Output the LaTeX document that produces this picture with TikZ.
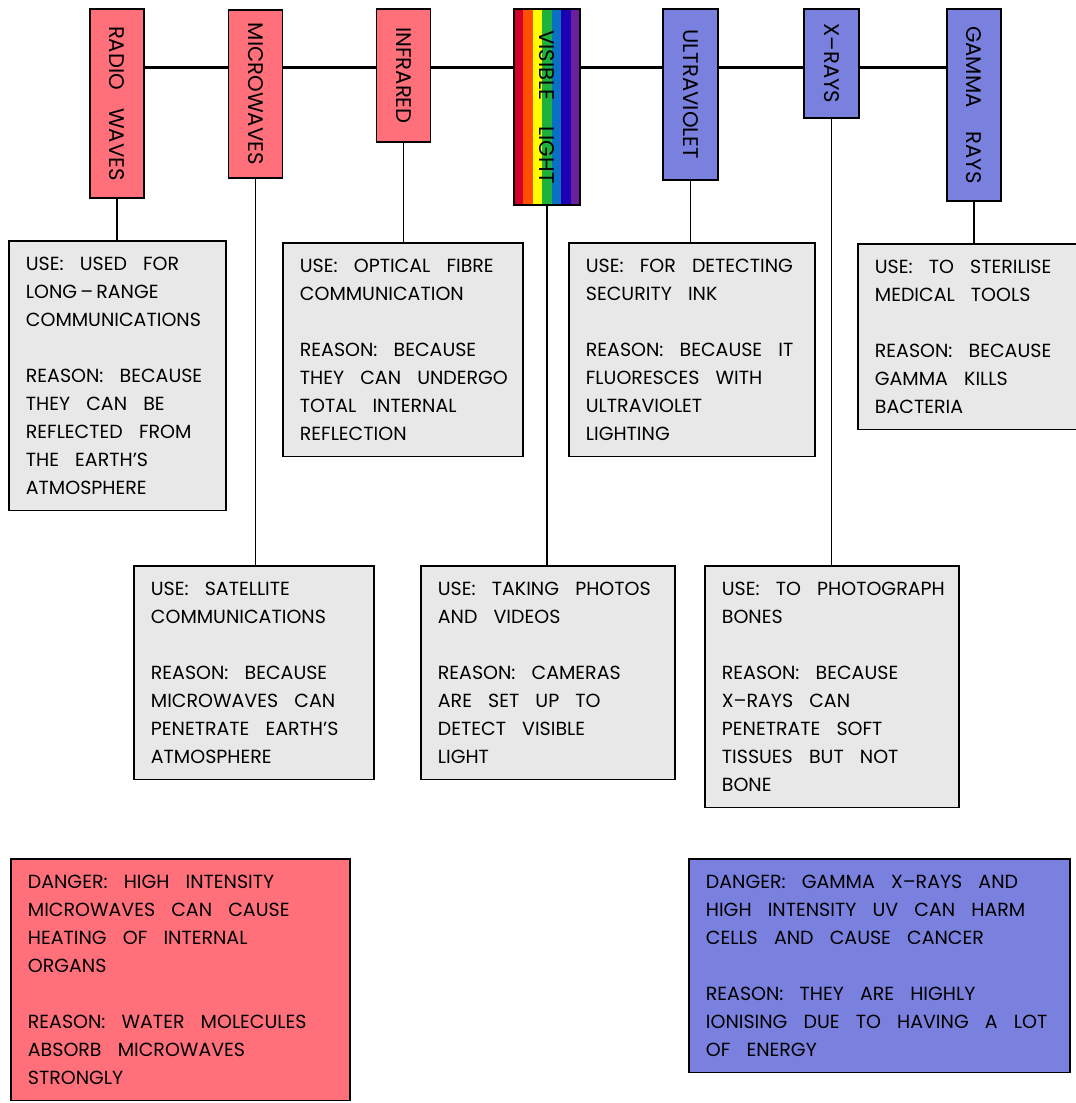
\documentclass[tikz,border=0pt]{standalone}
\usepackage{fontspec}
\setmainfont{Poppins}
\definecolor{hotred}{HTML}{FF707B}
\definecolor{ionblue}{HTML}{7A80DE}
\definecolor{boxgray}{HTML}{E8E8E8}
\definecolor{vred}{HTML}{D4002A}
\definecolor{vorange}{HTML}{FF4F00}
\definecolor{vyellow}{HTML}{FFFF00}
\definecolor{vgreen}{HTML}{1EB23C}
\definecolor{vblue}{HTML}{0A70C4}
\definecolor{vindigo}{HTML}{1E00B4}
\definecolor{vviolet}{HTML}{6A1F9C}
\newcommand\emfont{\fontsize{9.5}{14}\selectfont}
\newcommand\bandfont{\fontsize{10.6}{12}\selectfont}

\tikzset{
  bandbox/.style={draw, line width=0.9pt, rotate=-90, anchor=west, inner sep=0pt, font=\bandfont},
  infobox/.style={draw, line width=0.9pt, fill=boxgray, anchor=north west, align=left,
    inner xsep=0pt, inner ysep=8pt, font=\emfont,
    execute at begin node={\spaceskip=0.85em plus 0.1em minus 0.1em\leftskip=8.5pt
      \rightskip=-6pt plus 1fil\hyphenpenalty=10000\exhyphenpenalty=10000\relax}},
  wire/.style={line width=0.8pt},
}

\begin{document}
\begin{tikzpicture}[x=0.5pt, y=-0.5pt]
  \useasboundingbox (0,0) rectangle (1076,1103);

  % spectrum spine
  \coordinate (spineL) at (117,67);
  \coordinate (spineR) at (974,67);
  \draw[line width=1.5pt] (spineL) -- (spineR);

  % rainbow stripes under the visible light box
  \foreach \c [count=\i from 0] in {vred,vorange,vyellow,vgreen,vblue,vindigo,vviolet}
    \fill[\c] (514+\i*9.43,8) rectangle (514+\i*9.43+9.43,204);

  % bands
  \node[bandbox, fill=hotred, minimum width=94.5pt, minimum height=27pt] (radio) at (117,8) {RADIO\hspace{9pt}WAVES};
  \node[bandbox, fill=hotred, minimum width=84pt, minimum height=27pt] (micro) at (255.5,9) {MICROWAVES};
  \node[bandbox, fill=hotred, minimum width=66.5pt, minimum height=27pt] (infra) at (403.5,8) {INFRARED};
  \node[bandbox, minimum width=98pt, minimum height=33pt] (visible) at (547,8) {VISIBLE\hspace{13pt}LIGHT};
  \node[bandbox, fill=ionblue, minimum width=85.5pt, minimum height=27.5pt] (ultra) at (690.5,8) {ULTRAVIOLET};
  \node[bandbox, fill=ionblue, minimum width=54.5pt, minimum height=27.5pt] (xray) at (831.5,8) {X--RAYS};
  \node[bandbox, fill=ionblue, minimum width=96pt, minimum height=27pt] (gamma) at (974,8) {GAMMA\hspace{12pt}RAYS};

  % uses
  \node[infobox, text width=108.5pt] (radiouse) at (8,240)
    {USE: USED FOR\\ LONG\,--\,RANGE\\ COMMUNICATIONS\\[14pt]
     REASON: BECAUSE\\ THEY CAN BE\\ REFLECTED FROM\\ THE EARTH’S\\ ATMOSPHERE};
  \node[infobox, text width=120pt] (infrause) at (282,242)
    {USE: OPTICAL FIBRE\\ COMMUNICATION\\[14pt]
     REASON: BECAUSE\\ THEY CAN UNDERGO\\ TOTAL INTERNAL\\ REFLECTION};
  \node[infobox, text width=123pt] (ultrause) at (568,242)
    {USE: FOR DETECTING\\ SECURITY INK\\[14pt]
     REASON: BECAUSE IT\\ FLUORESCES WITH\\ ULTRAVIOLET\\ LIGHTING};
  \node[infobox, text width=115pt] (gammause) at (857,243)
    {USE: TO STERILISE\\ MEDICAL TOOLS\\[14pt]
     REASON: BECAUSE\\ GAMMA KILLS\\ BACTERIA};
  \node[infobox, text width=120pt] (microuse) at (133,565)
    {USE: SATELLITE\\ COMMUNICATIONS\\[14pt]
     REASON: BECAUSE\\ MICROWAVES CAN\\ PENETRATE EARTH’S\\ ATMOSPHERE};
  \node[infobox, text width=127pt] (visibleuse) at (420,565)
    {USE: TAKING PHOTOS\\ AND VIDEOS\\[14pt]
     REASON: CAMERAS\\ ARE SET UP TO\\ DETECT VISIBLE\\ LIGHT};
  \node[infobox, text width=127pt] (xrayuse) at (704,565)
    {USE: TO PHOTOGRAPH\\ BONES\\[14pt]
     REASON: BECAUSE\\ X--RAYS CAN\\ PENETRATE SOFT\\ TISSUES BUT NOT\\ BONE};

  % dangers
  \node[infobox, fill=hotred, text width=169.5pt] (lowdanger) at (10,858)
    {DANGER: HIGH INTENSITY\\ MICROWAVES CAN CAUSE\\ HEATING OF INTERNAL\\ ORGANS\\[14pt]
     REASON: WATER MOLECULES\\ ABSORB MICROWAVES\\ STRONGLY};
  \node[infobox, fill=ionblue, text width=190.5pt] (highdanger) at (688,858)
    {DANGER: GAMMA X--RAYS AND\\ HIGH INTENSITY UV CAN HARM\\ CELLS AND CAUSE CANCER\\[14pt]
     REASON: THEY ARE HIGHLY\\ IONISING DUE TO HAVING A LOT\\ OF ENERGY};

  % connectors
  \draw[wire] (radio.east) -- (radio.east |- radiouse.north);
  \draw[wire] (micro.east) -- (micro.east |- microuse.north);
  \draw[wire] (infra.east) -- (infra.east |- infrause.north);
  \draw[wire] (visible.east) -- (visible.east |- visibleuse.north);
  \draw[wire] (ultra.east) -- (ultra.east |- ultrause.north);
  \draw[wire] (xray.east) -- (xray.east |- xrayuse.north);
  \draw[wire] (gamma.east) -- (gamma.east |- gammause.north);
\end{tikzpicture}
\end{document}
